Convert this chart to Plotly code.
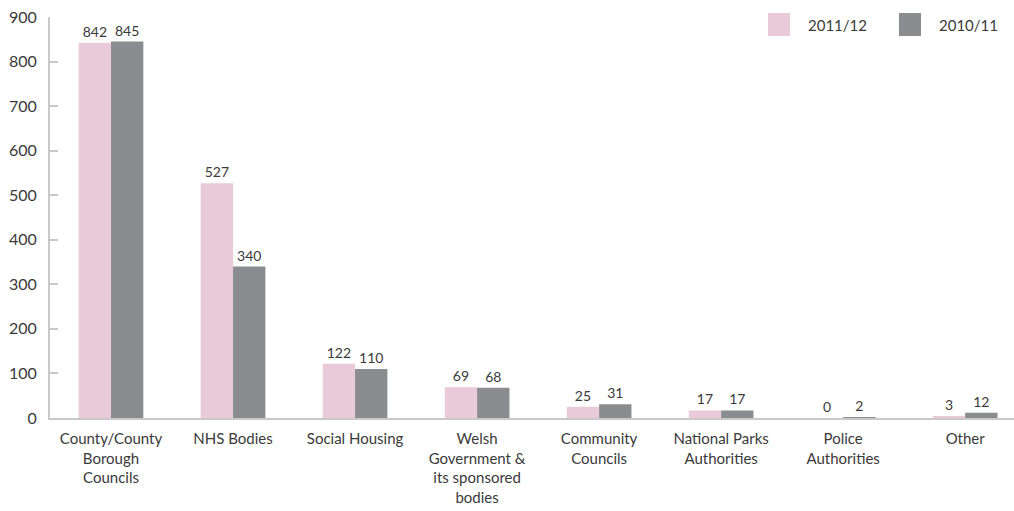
import plotly.graph_objects as go

# Bodies and the number of cases for each year
categories = [
    "County/County<br>Borough<br>Councils",
    "NHS Bodies",
    "Social Housing",
    "Welsh<br>Government &<br>its sponsored<br>bodies",
    "Community<br>Councils",
    "National Parks<br>Authorities",
    "Police<br>Authorities",
    "Other",
]
cases_2011_12 = [842, 527, 122, 69, 25, 17, 0, 3]
cases_2010_11 = [845, 340, 110, 68, 31, 17, 2, 12]
y_ticks = [0, 100, 200, 300, 400, 500, 600, 700, 800, 900]

PINK = "#e8cad9"
GREY = "#8b8c90"
TEXT = "#3a3a3a"
AXIS = "#c9c9c9"
FONT = "Lato"

fig = go.Figure()
for name, vals, col in [("2011/12", cases_2011_12, PINK),
                        ("2010/11", cases_2010_11, GREY)]:
    fig.add_trace(go.Bar(
        x=categories, y=vals, name=name,
        marker=dict(color=col, line=dict(width=0)),
        text=[str(v) for v in vals], textposition="outside",
        textfont=dict(family=FONT, size=14, color=TEXT),
        cliponaxis=False,
    ))

fig.update_layout(
    width=1014, height=511,
    margin=dict(l=50, r=0, t=17, b=93),
    paper_bgcolor="white", plot_bgcolor="white",
    barmode="group", bargap=0.47, bargroupgap=0,
    showlegend=False,
    font=dict(family=FONT, color=TEXT),
)
fig.update_xaxes(
    type="category", range=[-0.5, 7.4],
    showline=True, linecolor=AXIS, linewidth=2,
    showgrid=False, ticks="", ticklabelstandoff=6,
    tickfont=dict(family=FONT, size=15, color=TEXT),
)
fig.update_yaxes(
    range=[0, 900], tickvals=y_ticks,
    showline=True, linecolor=AXIS, linewidth=2,
    showgrid=False, zeroline=False,
    ticks="inside", ticklen=8, tickcolor=AXIS, tickwidth=2,
    ticklabelstandoff=8,
    tickfont=dict(family=FONT, size=16, color=TEXT),
)

# Legend drawn as large swatches with labels in the top-right corner
for x0, label, col in [(768, "2011/12", PINK), (899, "2010/11", GREY)]:
    fig.add_shape(type="rect", xref="paper", yref="paper",
                  x0=(x0 - 50) / 964, x1=(x0 + 22 - 50) / 964,
                  y0=(418 - 36) / 401, y1=(418 - 13) / 401,
                  fillcolor=col, line=dict(width=0))
    fig.add_annotation(xref="paper", yref="paper",
                       x=(x0 + 38 - 50) / 964, y=(418 - 25) / 401,
                       xanchor="left", yanchor="middle", showarrow=False,
                       text=label, font=dict(family=FONT, size=15, color=TEXT))

fig.write_html("out.html")
